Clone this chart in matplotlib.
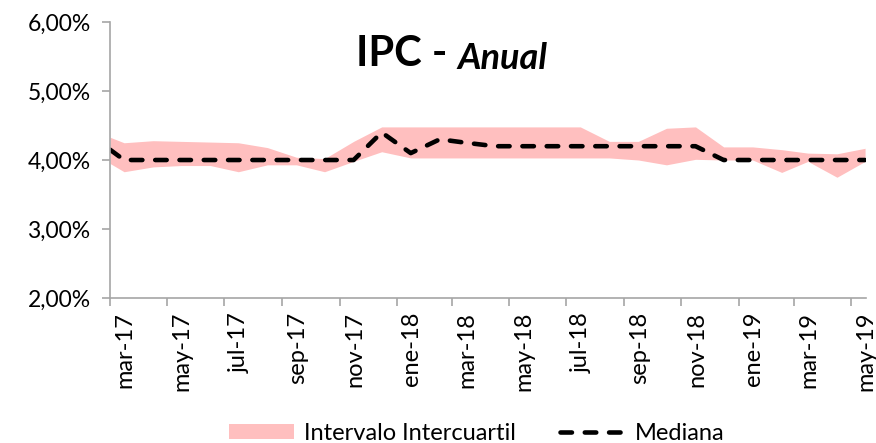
import matplotlib
matplotlib.use('Agg')
import matplotlib.pyplot as plt
from matplotlib.patches import Patch
from matplotlib.lines import Line2D
import pandas as pd

plt.rcParams['font.family'] = ['Lato', 'DejaVu Sans']

# fechas de la encuesta (primer punto + mitad de cada mes)
fechas = ['2017-03-01'] + [f'{y}-{m:02d}-16' for y, m in
          [(2017, m) for m in range(3, 13)] + [(2018, m) for m in range(1, 13)] + [(2019, m) for m in range(1, 6)]]
fechas = pd.to_datetime(fechas)

mediana = [4.15, 4.00, 4.00, 4.00, 4.00, 4.00, 4.00, 4.00, 4.00, 4.00,
           4.40, 4.10, 4.30, 4.25, 4.20, 4.20, 4.20, 4.20, 4.20, 4.20,
           4.20, 4.20, 4.00, 4.00, 4.00, 4.00, 4.00, 4.00]
cuartil_sup = [4.33, 4.25, 4.28, 4.27, 4.26, 4.25, 4.18, 4.04, 4.02, 4.27,
               4.48, 4.48, 4.48, 4.48, 4.48, 4.48, 4.48, 4.48, 4.27, 4.27,
               4.46, 4.48, 4.19, 4.19, 4.15, 4.10, 4.09, 4.17]
cuartil_inf = [3.95, 3.83, 3.90, 3.92, 3.92, 3.83, 3.93, 3.93, 3.83, 3.98,
               4.12, 4.03, 4.03, 4.03, 4.03, 4.03, 4.03, 4.03, 4.03, 4.00,
               3.93, 4.01, 4.00, 4.00, 3.82, 3.98, 3.75, 3.98]

tick_fechas = pd.date_range('2017-03-01', '2019-05-01', freq='2MS')
tick_labels = ['mar-17', 'may-17', 'jul-17', 'sep-17', 'nov-17', 'ene-18', 'mar-18',
               'may-18', 'jul-18', 'sep-18', 'nov-18', 'ene-19', 'mar-19', 'may-19']
y_ticks = [2, 3, 4, 5, 6]
y_labels = ['2,00%', '3,00%', '4,00%', '5,00%', '6,00%']

rosa = '#ffbfbf'
estilo_mediana = dict(color='black', linewidth=3.3, linestyle=(0, (2.5, 2.8)), dash_capstyle='round')

fig = plt.figure(figsize=(8.76, 4.43), dpi=100)
ax = fig.add_axes([0.1256, 0.3273, 0.863, 0.623])

ax.fill_between(fechas, cuartil_inf, cuartil_sup, color=rosa, linewidth=0)
ax.plot(fechas, mediana, **estilo_mediana)

ax.set_ylim(2, 6)
ax.set_xlim(fechas[0], fechas[-1])
ax.set_yticks(y_ticks)
ax.set_yticklabels(y_labels, fontsize=16.5)

# marcas en el eje; las etiquetas van un poco a la derecha (ticks menores sin marca)
ax.set_xticks(tick_fechas)
ax.set_xticklabels([])
ax.set_xticks(tick_fechas + pd.Timedelta(days=16), minor=True)
ax.set_xticklabels(tick_labels, minor=True, rotation=90, fontsize=17)
ax.tick_params(axis='x', which='minor', length=0, pad=10)

for s in ['top', 'right']:
    ax.spines[s].set_visible(False)
for s in ['left', 'bottom']:
    ax.spines[s].set_color('#a6a6a6')
    ax.spines[s].set_linewidth(1.2)
ax.tick_params(axis='both', which='major', color='#a6a6a6', length=6, width=1.2, pad=4)
ax.tick_params(axis='y', pad=8)

# titulo: "IPC - " en negrita y "Anual" en negrita cursiva
fig.text(0.522, 0.877, 'IPC - ', fontsize=30, fontweight='bold', ha='right', va='center')
fig.text(0.522, 0.869, 'Anual', fontsize=26, fontweight='bold', style='italic', ha='left', va='center')

handles = [Patch(facecolor=rosa, edgecolor='none'), Line2D([0], [0], **estilo_mediana)]
fig.legend(handles, ['Intervalo Intercuartil', 'Mediana'], loc='center',
           bbox_to_anchor=(0.544, 0.022), ncol=2, frameon=False, fontsize=17,
           handlelength=2.75, handleheight=0.55, handletextpad=0.42, columnspacing=1.86)

fig.savefig('out.png', dpi=100)
